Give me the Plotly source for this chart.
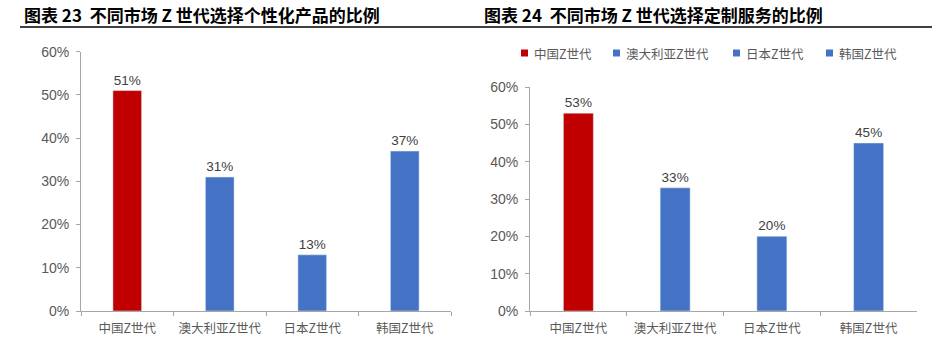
import plotly.graph_objects as go

# ---- data ----
categories = ["中国Z世代", "澳大利亚Z世代", "日本Z世代", "韩国Z世代"]
personalized_share = [0.51, 0.31, 0.13, 0.37]
custom_service_share = [0.53, 0.33, 0.20, 0.45]
bar_colors = ["#C00000", "#4472C4", "#4472C4", "#4472C4"]
y_ticks = [0, 0.1, 0.2, 0.3, 0.4, 0.5, 0.6]

title_left = "<b>图表 23  不同市场 Z 世代选择个性化产品的比例</b>"
title_right = "<b>图表 24  不同市场 Z 世代选择定制服务的比例</b>"

W, H = 932, 343


def px_x(x):
    return x / W


def px_y(y):
    return 1 - y / H


CJK = "Noto Sans CJK SC"
LATIN = "Liberation Sans, Arial"
GRAY = "#595959"
AXIS = "#A6A6A6"

fig = go.Figure()

# left chart: one trace, colours per bar
fig.add_trace(go.Bar(
    x=categories, y=personalized_share, marker_color=bar_colors,
    width=0.31, texttemplate="%{y:.0%}", textposition="outside",
    textfont=dict(family=LATIN, size=13.5, color="#404040"),
    cliponaxis=False, showlegend=False, xaxis="x", yaxis="y",
))

# right chart: one trace per market so each has its own legend entry
for cat, val, col in zip(categories, custom_service_share, bar_colors):
    fig.add_trace(go.Bar(
        x=[cat], y=[val], name=cat, marker_color=col, width=0.31,
        texttemplate="%{y:.0%}", textposition="outside",
        textfont=dict(family=LATIN, size=13.5, color="#404040"),
        cliponaxis=False, showlegend=False, xaxis="x2", yaxis="y2",
    ))

xaxis_common = dict(
    type="category", showline=True, linecolor=AXIS, linewidth=1,
    ticks="outside", tickson="boundaries", ticklen=4, tickcolor=AXIS,
    tickfont=dict(family=CJK, size=12.5, color=GRAY), ticklabelstandoff=6,
    showgrid=False, zeroline=False, fixedrange=True, automargin=False,
)
yaxis_common = dict(
    range=[0, 0.6], tickvals=y_ticks, tickformat=".0%",
    showline=True, linecolor=AXIS, linewidth=1,
    ticks="outside", ticklen=4, tickcolor=AXIS,
    tickfont=dict(family=LATIN, size=14, color=GRAY), ticklabelstandoff=4,
    showgrid=False, zeroline=False, fixedrange=True, automargin=False,
)

fig.update_layout(
    width=W, height=H,
    margin=dict(l=0, r=0, t=0, b=0, autoexpand=False),
    paper_bgcolor="white", plot_bgcolor="white",
    barmode="overlay",
    xaxis=dict(domain=[px_x(81), px_x(451)], anchor="y", **xaxis_common),
    yaxis=dict(domain=[px_y(311), px_y(51.7)], anchor="x", **yaxis_common),
    xaxis2=dict(domain=[px_x(530), px_x(917)], anchor="y2", **xaxis_common),
    yaxis2=dict(domain=[px_y(311), px_y(87)], anchor="x2", **yaxis_common),
)

annotations = []
shapes = []

# chart titles and the rule beneath them
for text, x0 in [(title_left, 22), (title_right, 482)]:
    annotations.append(dict(
        text=text, xref="paper", yref="paper", x=px_x(x0), y=px_y(14),
        xanchor="left", yanchor="middle", showarrow=False,
        font=dict(family=CJK, size=17, color="#000000"),
    ))
shapes.append(dict(
    type="line", xref="paper", yref="paper",
    x0=px_x(20), x1=px_x(932), y0=px_y(27), y1=px_y(27),
    line=dict(color="#000000", width=1.5),
))

# legend for the right chart
legend_left_px = [521, 613, 733, 826]
for cat, col, lx in zip(categories, bar_colors, legend_left_px):
    shapes.append(dict(
        type="rect", xref="paper", yref="paper",
        x0=px_x(lx), x1=px_x(lx + 7), y0=px_y(56.5), y1=px_y(49.5),
        fillcolor=col, line=dict(width=0),
    ))
    annotations.append(dict(
        text=cat, xref="paper", yref="paper", x=px_x(lx + 11), y=px_y(53),
        xanchor="left", yanchor="middle", showarrow=False,
        font=dict(family=CJK, size=12.5, color=GRAY),
    ))

fig.update_layout(annotations=annotations, shapes=shapes)

fig.write_html("out.html")
